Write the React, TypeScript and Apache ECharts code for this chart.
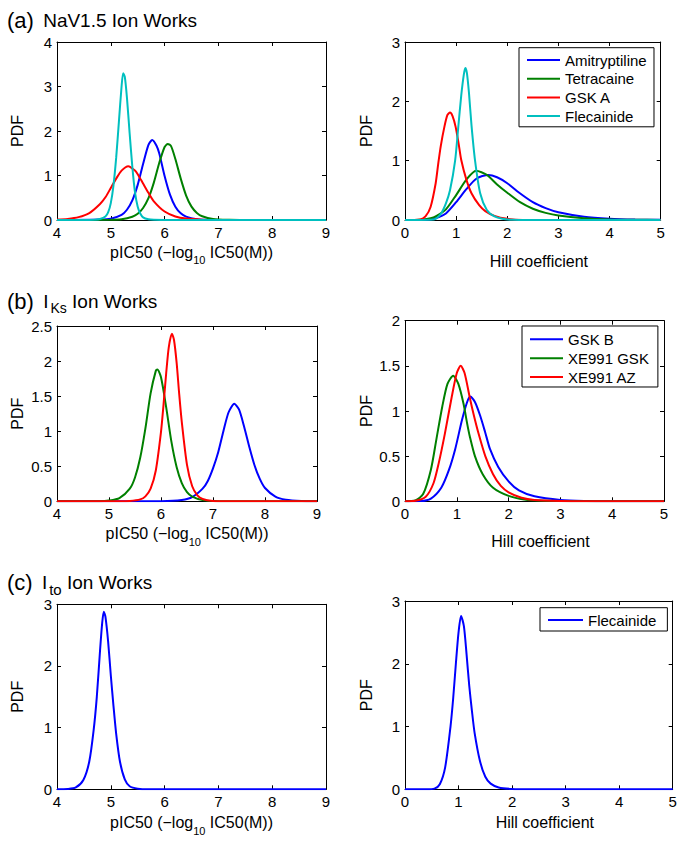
import React, { useEffect, useRef } from 'react';
import * as echarts from 'echarts';

// ---------------- data ----------------
const pic50Axis = [4, 9, 1];
const hillAxis = [0, 5, 1];
const pdfAxisNaVPic = [0, 4, 1];
const pdfAxisNaVHill = [0, 3, 1];
const pdfAxisIKsPic = [0, 2.5, 0.5];
const pdfAxisIKsHill = [0, 2, 0.5];
const pdfAxisItoPic = [0, 3, 1];
const pdfAxisItoHill = [0, 3, 1];

const navDrugs = ['Amitryptiline', 'Tetracaine', 'GSK A', 'Flecainide'];
const iksDrugs = ['GSK B', 'XE991 GSK', 'XE991 AZ'];
const itoDrugs = ['Flecainide'];

// (a) NaV1.5 pIC50
const aPicAmitriptyline = [[4, 0], [4.8, 0.01], [5.0, 0.03], [5.2, 0.115], [5.3, 0.23], [5.4, 0.44], [5.5, 0.79], [5.6, 1.26], [5.7, 1.69], [5.77, 1.8], [5.85, 1.67], [5.9, 1.5], [6.0, 0.99], [6.1, 0.57], [6.2, 0.3], [6.3, 0.15], [6.4, 0.076], [6.6, 0.018], [6.8, 0.005], [7.1, 0], [9, 0]];
const aPicTetracaine = [[4, 0], [5.0, 0.006], [5.2, 0.018], [5.4, 0.074], [5.5, 0.14], [5.6, 0.27], [5.7, 0.49], [5.8, 0.84], [5.9, 1.28], [6.0, 1.64], [6.06, 1.71], [6.12, 1.66], [6.2, 1.37], [6.3, 0.93], [6.4, 0.55], [6.5, 0.3], [6.6, 0.16], [6.7, 0.084], [6.9, 0.022], [7.2, 0.003], [7.5, 0], [9, 0]];
const aPicGskA = [[4, 0.01], [4.2, 0.025], [4.4, 0.064], [4.6, 0.155], [4.8, 0.36], [4.9, 0.51], [5.0, 0.72], [5.1, 0.93], [5.2, 1.11], [5.325, 1.21], [5.45, 1.11], [5.5, 1.03], [5.6, 0.82], [5.7, 0.61], [5.8, 0.42], [6.0, 0.19], [6.2, 0.08], [6.4, 0.032], [6.7, 0.008], [7.0, 0.002], [7.4, 0], [9, 0]];
const aPicFlecainide = [[4, 0], [4.6, 0.002], [4.7, 0.006], [4.8, 0.022], [4.9, 0.08], [4.95, 0.17], [5.0, 0.38], [5.05, 0.78], [5.1, 1.4], [5.15, 2.2], [5.2, 3.0], [5.23, 3.3], [5.26, 3.22], [5.3, 2.75], [5.35, 1.95], [5.4, 1.2], [5.45, 0.62], [5.5, 0.3], [5.55, 0.14], [5.6, 0.06], [5.7, 0.015], [5.8, 0.003], [6.0, 0], [9, 0]];

// (a) NaV1.5 Hill coefficient
const aHillAmitriptyline = [[0, 0], [0.4, 0.005], [0.6, 0.03], [0.8, 0.11], [1.0, 0.3], [1.2, 0.52], [1.4, 0.7], [1.63, 0.76], [1.8, 0.72], [2.0, 0.62], [2.2, 0.48], [2.5, 0.3], [2.75, 0.2], [3.0, 0.13], [3.5, 0.055], [4.0, 0.022], [4.5, 0.008], [5.0, 0.003]];
const aHillTetracaine = [[0, 0], [0.3, 0.005], [0.5, 0.03], [0.6, 0.06], [0.8, 0.18], [1.0, 0.42], [1.2, 0.68], [1.39, 0.83], [1.6, 0.76], [1.8, 0.6], [2.0, 0.46], [2.25, 0.3], [2.5, 0.19], [2.75, 0.12], [3.0, 0.075], [3.5, 0.03], [4.0, 0.01], [4.5, 0.004], [5.0, 0.001]];
const aHillGskA = [[0, 0], [0.3, 0.01], [0.4, 0.06], [0.5, 0.22], [0.6, 0.62], [0.65, 0.95], [0.7, 1.25], [0.77, 1.57], [0.83, 1.77], [0.88, 1.81], [0.93, 1.75], [0.99, 1.57], [1.05, 1.28], [1.1, 1.01], [1.2, 0.68], [1.3, 0.45], [1.45, 0.25], [1.57, 0.15], [1.75, 0.07], [2.0, 0.02], [2.3, 0], [5, 0]];
const aHillFlecainide = [[0, 0], [0.5, 0.005], [0.6, 0.02], [0.7, 0.1], [0.8, 0.28], [0.88, 0.5], [0.98, 1.0], [1.04, 1.55], [1.1, 2.1], [1.15, 2.45], [1.18, 2.56], [1.21, 2.48], [1.25, 2.15], [1.3, 1.6], [1.37, 1.0], [1.47, 0.45], [1.6, 0.17], [1.75, 0.06], [1.9, 0.02], [2.1, 0.004], [2.4, 0], [5, 0]];

// (b) IKs pIC50
const bPicGskB = [[4, 0], [5.5, 0], [6.0, 0.002], [6.4, 0.02], [6.6, 0.06], [6.8, 0.18], [6.9, 0.29], [7.0, 0.47], [7.1, 0.7], [7.2, 1.0], [7.3, 1.27], [7.41, 1.39], [7.5, 1.31], [7.6, 1.06], [7.7, 0.77], [7.8, 0.51], [7.9, 0.32], [8.0, 0.19], [8.2, 0.068], [8.4, 0.023], [8.7, 0.004], [9, 0.001]];
const bPicXe991Gsk = [[4, 0], [4.8, 0.002], [5.0, 0.011], [5.2, 0.045], [5.4, 0.18], [5.5, 0.34], [5.6, 0.62], [5.7, 1.04], [5.8, 1.54], [5.9, 1.86], [5.93, 1.88], [6.0, 1.77], [6.1, 1.34], [6.2, 0.85], [6.3, 0.49], [6.4, 0.26], [6.5, 0.13], [6.6, 0.067], [6.8, 0.017], [7.0, 0.004], [7.3, 0], [9, 0]];
const bPicXe991Az = [[4, 0], [5.2, 0], [5.4, 0.004], [5.6, 0.027], [5.7, 0.07], [5.8, 0.18], [5.9, 0.44], [6.0, 0.99], [6.05, 1.39], [6.1, 1.83], [6.15, 2.2], [6.21, 2.39], [6.25, 2.3], [6.3, 1.98], [6.35, 1.53], [6.4, 1.13], [6.5, 0.52], [6.6, 0.215], [6.7, 0.085], [6.8, 0.033], [7.0, 0.005], [7.3, 0], [9, 0]];

// (b) IKs Hill coefficient
const bHillGskB = [[0, 0], [0.3, 0.002], [0.5, 0.03], [0.7, 0.15], [0.85, 0.35], [0.97, 0.58], [1.1, 0.9], [1.2, 1.1], [1.26, 1.16], [1.35, 1.1], [1.45, 0.95], [1.55, 0.76], [1.64, 0.58], [1.8, 0.38], [2.0, 0.22], [2.2, 0.12], [2.5, 0.055], [3.0, 0.015], [3.5, 0.004], [4.0, 0.001], [5.0, 0]];
const bHillXe991Gsk = [[0, 0], [0.2, 0.01], [0.35, 0.08], [0.5, 0.35], [0.61, 0.7], [0.72, 1.05], [0.82, 1.3], [0.93, 1.39], [1.03, 1.3], [1.13, 1.08], [1.2, 0.86], [1.25, 0.72], [1.35, 0.5], [1.5, 0.3], [1.7, 0.15], [2.0, 0.06], [2.3, 0.02], [2.7, 0.005], [3.2, 0], [5, 0]];
const bHillXe991Az = [[0, 0], [0.2, 0.005], [0.4, 0.05], [0.55, 0.2], [0.65, 0.42], [0.77, 0.75], [0.9, 1.15], [1.0, 1.42], [1.075, 1.5], [1.15, 1.42], [1.25, 1.15], [1.33, 0.95], [1.42, 0.75], [1.55, 0.5], [1.7, 0.3], [1.85, 0.17], [2.0, 0.1], [2.25, 0.04], [2.5, 0.015], [3.0, 0.003], [3.5, 0], [5, 0]];

// (c) Ito
const cPicFlecainide = [[4, 0], [4.2, 0.005], [4.35, 0.03], [4.49, 0.15], [4.6, 0.45], [4.68, 0.95], [4.74, 1.5], [4.8, 2.25], [4.84, 2.7], [4.87, 2.88], [4.9, 2.8], [4.95, 2.4], [5.0, 1.85], [5.05, 1.35], [5.1, 0.9], [5.17, 0.45], [5.26, 0.16], [5.35, 0.05], [5.5, 0.01], [5.7, 0], [9, 0]];
const cHillFlecainide = [[0, 0], [0.4, 0], [0.55, 0.01], [0.65, 0.08], [0.75, 0.35], [0.85, 1.0], [0.9, 1.45], [0.95, 2.0], [1.0, 2.5], [1.047, 2.76], [1.1, 2.6], [1.15, 2.15], [1.2, 1.65], [1.25, 1.25], [1.3, 0.9], [1.4, 0.45], [1.5, 0.2], [1.6, 0.09], [1.75, 0.03], [2.0, 0.005], [2.3, 0], [5, 0]];

// ---------------- styles ----------------
const FONT = '"Liberation Sans", Arial, Helvetica, sans-serif';
const BLUE = '#0000ff';
const GREEN = '#008000';
const RED = '#ff0000';
const CYAN = '#00bfbf';

const PIC_NAME = '{n|pIC50 (\u2212log}{s|10}{n| IC50(M))}';
const HILL_NAME = 'Hill coefficient';

export default function App() {
  const ref = useRef<HTMLDivElement>(null);

  useEffect(() => {
    if (!ref.current) return;
    const chart = echarts.init(ref.current, null, { renderer: 'svg' });

    const panels = [
      { grid: { left: 57, top: 42, width: 269, height: 178 }, x: pic50Axis, y: pdfAxisNaVPic, xName: PIC_NAME, xGap: 18.5, yGap: 32, xPad: [0, 0, 0, 0],
        series: [[navDrugs[0], aPicAmitriptyline, BLUE], [navDrugs[1], aPicTetracaine, GREEN], [navDrugs[2], aPicGskA, RED], [navDrugs[3], aPicFlecainide, CYAN]] },
      { grid: { left: 405, top: 42, width: 255.7, height: 178 }, x: hillAxis, y: pdfAxisNaVHill, xName: HILL_NAME, xGap: 33, yGap: 31, xPad: [0, 0, 0, 12],
        series: [[navDrugs[0], aHillAmitriptyline, BLUE], [navDrugs[1], aHillTetracaine, GREEN], [navDrugs[2], aHillGskA, RED], [navDrugs[3], aHillFlecainide, CYAN]] },
      { grid: { left: 57, top: 326, width: 260, height: 175.3 }, x: pic50Axis, y: pdfAxisIKsPic, xName: PIC_NAME, xGap: 19, yGap: 31.5, xPad: [0, 0, 0, 0],
        series: [[iksDrugs[0], bPicGskB, BLUE], [iksDrugs[1], bPicXe991Gsk, GREEN], [iksDrugs[2], bPicXe991Az, RED]] },
      { grid: { left: 405, top: 320.7, width: 259, height: 180.6 }, x: hillAxis, y: pdfAxisIKsHill, xName: HILL_NAME, xGap: 32, yGap: 31, xPad: [0, 0, 0, 12],
        series: [[iksDrugs[0], bHillGskB, BLUE], [iksDrugs[1], bHillXe991Gsk, GREEN], [iksDrugs[2], bHillXe991Az, RED]] },
      { grid: { left: 57, top: 604.3, width: 269, height: 185 }, x: pic50Axis, y: pdfAxisItoPic, xName: PIC_NAME, xGap: 20, yGap: 31.5, xPad: [0, 0, 0, 0],
        series: [[itoDrugs[0], cPicFlecainide, BLUE]] },
      { grid: { left: 405, top: 601, width: 267.7, height: 188.3 }, x: hillAxis, y: pdfAxisItoHill, xName: HILL_NAME, xGap: 25, yGap: 31, xPad: [0, 0, 0, 12],
        series: [[itoDrugs[0], cHillFlecainide, BLUE]] },
    ];

    const lineAxis = { show: true, onZero: false, lineStyle: { color: '#000', width: 1 } };
    const tick = { show: true, inside: true, length: 4, lineStyle: { color: '#000', width: 1 } };
    const label = { color: '#000', fontSize: 15, fontFamily: FONT, margin: 5 };

    const grids: any[] = [];
    const xAxes: any[] = [];
    const yAxes: any[] = [];
    const series: any[] = [];

    panels.forEach((p, i) => {
      grids.push({ ...p.grid, containLabel: false, show: false });
      xAxes.push({
        gridIndex: i, type: 'value', position: 'bottom', min: p.x[0], max: p.x[1], interval: p.x[2],
        axisLine: lineAxis, axisTick: tick, axisLabel: label, splitLine: { show: false },
        name: p.xName, nameLocation: 'middle', nameGap: p.xGap,
        nameTextStyle: {
          color: '#000', fontSize: 16, fontFamily: FONT, padding: p.xPad,
          rich: {
            n: { color: '#000', fontSize: 16, fontFamily: FONT },
            s: { color: '#000', fontSize: 11, fontFamily: FONT, padding: [16, 0, 0, 0] },
          },
        },
      });
      xAxes.push({
        gridIndex: i, type: 'value', position: 'top', min: p.x[0], max: p.x[1], interval: p.x[2],
        axisLine: lineAxis, axisTick: tick, axisLabel: { show: false }, splitLine: { show: false },
      });
      yAxes.push({
        gridIndex: i, type: 'value', position: 'left', min: p.y[0], max: p.y[1], interval: p.y[2],
        axisLine: lineAxis, axisTick: tick, axisLabel: label, splitLine: { show: false },
        name: 'PDF', nameLocation: 'middle', nameRotate: 90, nameGap: p.yGap,
        nameTextStyle: { color: '#000', fontSize: 16, fontFamily: FONT },
      });
      yAxes.push({
        gridIndex: i, type: 'value', position: 'right', min: p.y[0], max: p.y[1], interval: p.y[2],
        axisLine: lineAxis, axisTick: tick, axisLabel: { show: false }, splitLine: { show: false },
      });
      p.series.forEach((s: any) => {
        series.push({
          type: 'line', name: s[0], data: s[1], xAxisIndex: 2 * i, yAxisIndex: 2 * i,
          symbol: 'none', showSymbol: false, smooth: 0.25,
          lineStyle: { color: s[2], width: 2 }, itemStyle: { color: s[2] },
          emphasis: { disabled: true }, silent: true,
        });
      });
    });

    const legendBase = {
      orient: 'vertical', icon: 'rect', itemHeight: 2, itemWidth: 33,
      backgroundColor: '#fff', borderColor: '#000', borderWidth: 1, borderRadius: 0,
      textStyle: { color: '#000', fontSize: 15, fontFamily: FONT, lineHeight: 15 },
      selectedMode: false,
    };

    const titleRich = (sub: number) => ({
      p: { fontSize: 22, fontFamily: FONT, fill: '#000', padding: [0, 4, 0, 0] },
      t: { fontSize: 19, fontFamily: FONT, fill: '#000' },
      s: { fontSize: sub, fontFamily: FONT, fill: '#000', padding: [13, 0, 0, 2] },
    });

    chart.setOption({
      animation: false,
      backgroundColor: '#fff',
      grid: grids,
      xAxis: xAxes,
      yAxis: yAxes,
      series,
      legend: [
        { ...legendBase, data: navDrugs.map((n, k) => ({ name: n, itemStyle: { color: [BLUE, GREEN, RED, CYAN][k] } })),
          left: 519, top: 47.7, padding: [4.8, 7.3, 3.2, 8], itemGap: 3.7 },
        { ...legendBase, data: iksDrugs.map((n, k) => ({ name: n, itemStyle: { color: [BLUE, GREEN, RED][k] } })),
          left: 522, top: 326, padding: [5.8, 9, 2.5, 8], itemGap: 3.85 },
        { ...legendBase, itemWidth: 35, data: itoDrugs.map((n) => ({ name: n, itemStyle: { color: BLUE } })),
          left: 540, top: 607.7, padding: [4.8, 11, 3.5, 8], itemGap: 4 },
      ],
      graphic: [
        { type: 'text', x: 7, y: 20.6, silent: true,
          style: { text: '{p|(a)}{t| NaV1.5 Ion Works}', rich: titleRich(14), fontFamily: FONT, fontSize: 19, fill: '#000', verticalAlign: 'middle', align: 'left' } },
        { type: 'text', x: 7, y: 301.5, silent: true,
          style: { text: '{p|(b)}{t| I}{s|Ks}{t| Ion Works}', rich: titleRich(14), fontFamily: FONT, fontSize: 19, fill: '#000', verticalAlign: 'middle', align: 'left' } },
        { type: 'text', x: 7, y: 582.6, silent: true,
          style: { text: '{p|(c)}{t| I}{s|to}{t| Ion Works}', rich: titleRich(15), fontFamily: FONT, fontSize: 19, fill: '#000', verticalAlign: 'middle', align: 'left' } },
      ],
    });

    return () => {
      chart.dispose();
    };
  }, []);

  return (
    <div
      ref={ref}
      style={{ position: 'absolute', left: 0, top: 0, width: 683, height: 842, background: '#fff' }}
    />
  );
}
